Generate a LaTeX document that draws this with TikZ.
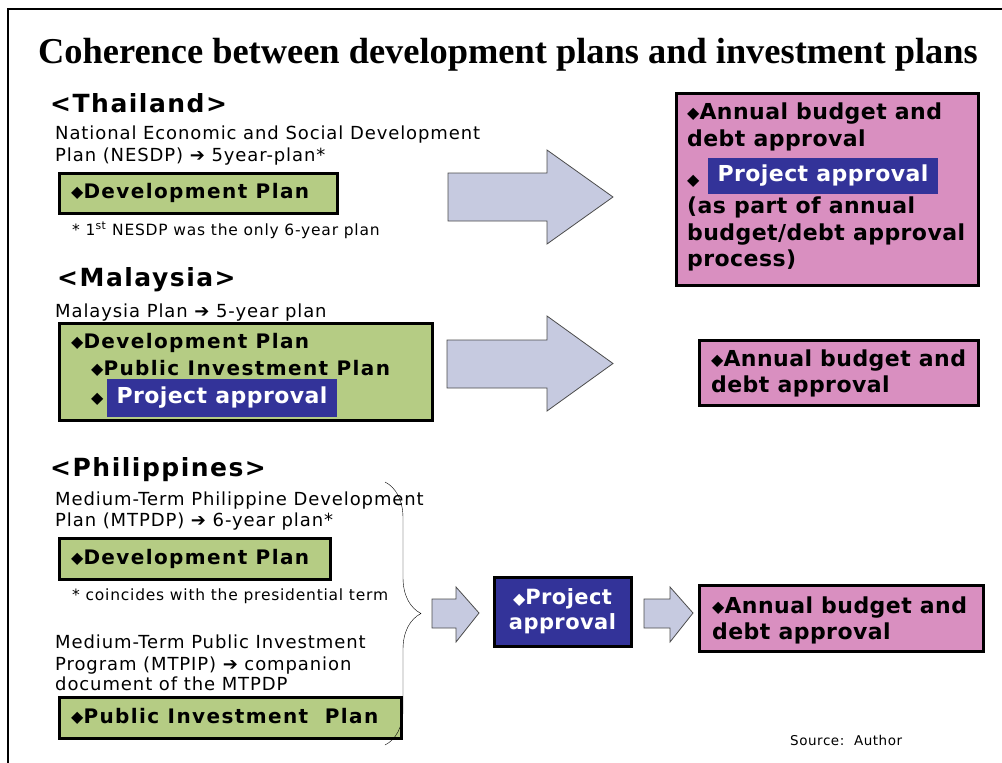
\documentclass[tikz,border=0pt]{standalone}
\usepackage{fontspec}
\setmainfont{DejaVu Sans}
\newfontfamily\titlefont{Liberation Serif}
\usetikzlibrary{decorations.pathreplacing}
\definecolor{plangreen}{RGB}{181,204,132}
\definecolor{budgetpink}{RGB}{217,143,192}
\definecolor{approvalblue}{RGB}{51,51,153}
\definecolor{arrowfill}{RGB}{198,202,224}
\newcommand{\dia}{\raisebox{0.5pt}{\fontsize{16}{16}\selectfont ◆}}

\begin{document}
\begin{tikzpicture}[
    x=1pt, y=-1pt,
    line/.style={anchor=base west, inner sep=0pt, font=\fontsize{18}{20}\selectfont\addfontfeature{LetterSpace=5}},
    note/.style={anchor=base west, inner sep=0pt, font=\fontsize{15.5}{18}\selectfont\addfontfeature{LetterSpace=5}},
    country/.style={anchor=base west, inner sep=0pt, font=\fontsize{25}{28}\selectfont\bfseries\addfontfeature{LetterSpace=6}},
    boxline/.style={anchor=base west, inner sep=0pt, font=\fontsize{20}{24}\selectfont\bfseries\addfontfeature{LetterSpace=7}},
    budgetline/.style={anchor=base west, inner sep=0pt, font=\fontsize{22}{26}\selectfont\bfseries\addfontfeature{LetterSpace=2}},
    greenbox/.style={draw, line width=3pt, fill=plangreen},
    pinkbox/.style={draw, line width=3pt, fill=budgetpink},
    bluebox/.style={fill=approvalblue, text=white, inner sep=0pt, font=\fontsize{22}{26}\selectfont\bfseries\addfontfeature{LetterSpace=2}},
    blockarrow/.style={draw=black!70, line width=0.8pt, fill=arrowfill, line join=miter}
]
    \useasboundingbox (0,0) rectangle (1002,763);
    % Frame
    \draw[line width=2pt] (8,763) -- (8,9) -- (1002,9);

    % Title
    \node[anchor=base, inner sep=0pt, font=\titlefont\fontsize{36.4}{40}\selectfont\bfseries] (title) at (508,63) {Coherence between development plans and investment plans};

    % Thailand
    \node[country] (thai) at (50,112) {<Thailand>};
    \node[line] (thaiN1) at (55,139) {National Economic and Social Development};
    \node[line] (thaiN2) at (55,161) {Plan (NESDP) ➔ 5year-plan*};
    \node[greenbox, minimum width=278, minimum height=40] (thaiplan) at (198,193) {};
    \node[boxline] (thaiplanT) at (71,198) {\dia Development Plan};
    \node[note] (thaiF) at (72,235) {* 1\textsuperscript{st} NESDP was the only 6-year plan};

    \draw[blockarrow] (448,173) -- (547,173) -- (547,150) -- (613,197) -- (547,244) -- (547,221) -- (448,221) -- cycle;

    \node[pinkbox, minimum width=302, minimum height=192] (thaibudget) at (827,189) {};
    \node[budgetline] (thaiB1) at (687,119) {\dia Annual budget and};
    \node[budgetline] (thaiB2) at (687,146) {debt approval};
    \node[budgetline] (thaiB3) at (687,186) {\dia};
    \node[bluebox, minimum width=230, minimum height=36] (thaiproj) at (823,176) {Project approval};
    \node[budgetline] (thaiB4) at (687,213) {(as part of annual};
    \node[budgetline] (thaiB5) at (687,240) {budget/debt approval};
    \node[budgetline] (thaiB6) at (687,266) {process)};

    % Malaysia
    \node[country] (mal) at (57,286) {<Malaysia>};
    \node[line] (malN) at (55,317) {Malaysia Plan ➔ 5-year plan};
    \node[greenbox, minimum width=373, minimum height=97] (malplan) at (245.5,371.5) {};
    \node[boxline] (malP1) at (71,348) {\dia Development Plan};
    \node[boxline] (malP2) at (91,375) {\dia Public Investment Plan};
    \node[boxline] (malP3) at (91,404) {\dia};
    \node[bluebox, minimum width=230, minimum height=38] (malproj) at (222,398) {Project approval};

    \draw[blockarrow] (447,340) -- (547,340) -- (547,316) -- (613,363.5) -- (547,411) -- (547,388) -- (447,388) -- cycle;

    \node[pinkbox, minimum width=279, minimum height=65] (malbudget) at (838.5,372.5) {};
    \node[budgetline] (malB1) at (711,366) {\dia Annual budget and};
    \node[budgetline] (malB2) at (711,392) {debt approval};

    % Philippines
    \node[country] (phil) at (50,476) {<Philippines>};
    \node[line] (philN1) at (55,505) {Medium-Term Philippine Development};
    \node[line] (philN2) at (55,526) {Plan (MTPDP) ➔ 6-year plan*};
    \node[greenbox, minimum width=271, minimum height=41] (philplan) at (194.5,558.5) {};
    \node[boxline] (philplanT) at (71,564) {\dia Development Plan};
    \node[note] (philF) at (72,600) {* coincides with the presidential term};
    \node[line] (philM1) at (55,648) {Medium-Term Public Investment};
    \node[line] (philM2) at (55,670) {Program (MTPIP) ➔ companion};
    \node[line] (philM3) at (55,690) {document of the MTPDP};
    \node[greenbox, minimum width=342, minimum height=41] (philpip) at (230,717.5) {};
    \node[boxline] (philpipT) at (71,723) {\dia Public Investment\ \ Plan};

    \coordinate (braceTop) at (385,482);
    \coordinate (braceBot) at (385,745);
    \draw[decorate, decoration={brace, amplitude=36pt}] (braceTop) -- (braceBot);

    \draw[blockarrow] (432,599) -- (456,599) -- (456,587) -- (479,613) -- (456,642) -- (456,628) -- (432,628) -- cycle;
    \node[draw, line width=3pt, fill=approvalblue, text=white, minimum width=137, minimum height=69, inner sep=0pt, align=center, font=\fontsize{21}{25}\selectfont\bfseries\addfontfeature{LetterSpace=2}] (philproj) at (562.5,611.5) {\dia Project\\approval};
    \draw[blockarrow] (644,599) -- (670,599) -- (670,587) -- (693,613) -- (670,642) -- (670,628) -- (644,628) -- cycle;

    \node[pinkbox, minimum width=284, minimum height=66] (philbudget) at (841,618) {};
    \node[budgetline] (philB1) at (712,613) {\dia Annual budget and};
    \node[budgetline] (philB2) at (712,639) {debt approval};

    % Source
    \node[anchor=base west, inner sep=0pt, font=\fontsize{13.5}{15}\selectfont\addfontfeature{LetterSpace=4}] (source) at (790,745) {Source:\ \ Author};
\end{tikzpicture}
\end{document}
